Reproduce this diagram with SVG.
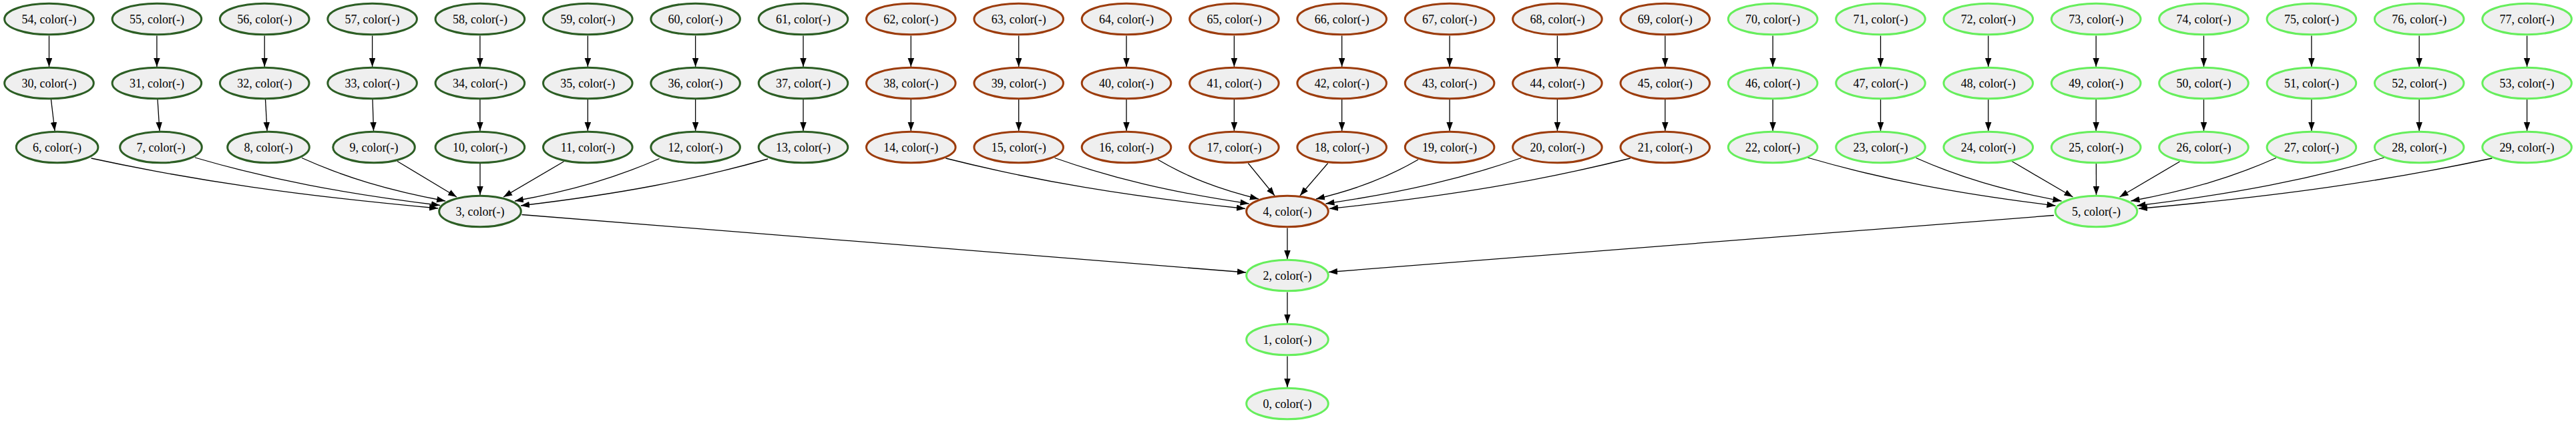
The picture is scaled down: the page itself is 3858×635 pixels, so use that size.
<svg xmlns="http://www.w3.org/2000/svg" width="3858" height="635" viewBox="0 0 3858 635">
<style>
.n ellipse{fill:#efefef;stroke-width:3}
.dg ellipse{stroke:#2c5e24}
.br ellipse{stroke:#9c3c0c}
.lg ellipse{stroke:#66ee5c}
.n text{font-family:"Liberation Serif","Times New Roman",serif;font-size:18px;text-anchor:middle;fill:#000}
#edges path{fill:none;stroke:#000;stroke-width:1.3;marker-end:url(#ah)}
</style>
<defs>
<marker id="ah" markerUnits="userSpaceOnUse" markerWidth="14" markerHeight="10" refX="13" refY="4.75" orient="auto"><path d="M0,0 L13,4.75 L0,9.5 z" fill="#000"/></marker>
</defs>
<rect width="3858" height="635" fill="#fff"/>
<g id="edges">
<path d="M73.5,53.5 V100"/><path d="M234.9,53.5 V100"/><path d="M396.2,53.5 V100"/><path d="M557.6,53.5 V100"/><path d="M718.9,53.5 V100"/><path d="M880.3,53.5 V100"/><path d="M1041.6,53.5 V100"/><path d="M1203,53.5 V100"/>
<path d="M1364.3,53.5 V100"/><path d="M1525.7,53.5 V100"/><path d="M1687,53.5 V100"/><path d="M1848.4,53.5 V100"/><path d="M2009.7,53.5 V100"/><path d="M2171.1,53.5 V100"/><path d="M2332.4,53.5 V100"/><path d="M2493.8,53.5 V100"/>
<path d="M2655.1,53.5 V100"/><path d="M2816.5,53.5 V100"/><path d="M2977.8,53.5 V100"/><path d="M3139.2,53.5 V100"/><path d="M3300.5,53.5 V100"/><path d="M3461.9,53.5 V100"/><path d="M3623.2,53.5 V100"/><path d="M3784.6,53.5 V100"/>
<path d="M76.5,149 L82,196"/><path d="M236,149 L239,196"/><path d="M397.5,149 L400,196"/><path d="M558,149 L559.5,196"/><path d="M718.9,149 V196"/><path d="M880.3,149 V196"/><path d="M1041.6,149 V196"/><path d="M1203,149 V196"/>
<path d="M1364.3,149 V196"/><path d="M1525.7,149 V196"/><path d="M1687,149 V196"/><path d="M1848.4,149 V196"/><path d="M2009.7,149 V196"/><path d="M2171.1,149 V196"/><path d="M2332.4,149 V196"/><path d="M2493.8,149 V196"/>
<path d="M2655.1,149 V196"/><path d="M2816.5,149 V196"/><path d="M2977.8,149 V196"/><path d="M3139.2,149 V196"/><path d="M3300.5,149 V196"/><path d="M3461.9,149 V196"/><path d="M3623.2,149 V196"/><path d="M3784.6,149 V196"/>
<path d="M136.6,237 C292.4,270.75 448.2,293.25 656,312"/>
<path d="M292,236 C402.1,268.2 512.2,289.6 659,307.5"/>
<path d="M452,236.5 C516.5,265.5 581,284.9 667,301"/>
<path d="M595,241.5 L684,295"/>
<path d="M719,245 L719,292"/>
<path d="M844.3,242 L754,295"/>
<path d="M987.6,237.5 C922.6,266.1 857.6,285.1 771,301"/>
<path d="M1150,238 C1039,269.5 928,290.5 780,308"/>
<path d="M1416.3,237 C1550.9,271 1685.5,293.6 1865,312.5"/>
<path d="M1579.6,236.5 C1666.9,267.3 1754.1,287.9 1870.5,305"/>
<path d="M1734,239 C1779.3,265.6 1824.6,283.3 1885,298"/>
<path d="M1869.4,244.5 L1909,293"/>
<path d="M1988.7,244.5 L1947,293"/>
<path d="M2124,239 C2078.1,265.6 2032.2,283.3 1971,298"/>
<path d="M2278.4,236.5 C2190.5,267.3 2102.7,287.9 1985.5,305"/>
<path d="M2441.8,237 C2306.5,271 2171.3,293.6 1991,312.5"/>
<path d="M2707.1,236 C2818.5,268.4 2929.9,290 3078.5,308"/>
<path d="M2869.5,236.5 C2934.9,265.5 3000.3,284.9 3087.5,301"/>
<path d="M3013,241.5 L3104.5,295"/>
<path d="M3139.4,245 L3139.5,292"/>
<path d="M3264.5,242 L3174.5,295"/>
<path d="M3408.9,236.5 C3343.7,265.5 3278.5,284.9 3191.5,301"/>
<path d="M3570.7,236 C3459.6,268.4 3348.6,290 3200.5,308"/>
<path d="M3732.4,237 C3573.6,271 3414.8,293.6 3203,312.5"/>
<path d="M781.5,321.5 L1866,408"/>
<path d="M1928,341.5 V388"/>
<path d="M3076,322.5 L1990,407.5"/>
<path d="M1928,437.5 V484"/>
<path d="M1928,533.5 V580"/>
</g>
<g id="n54" class="n dg"><ellipse cx="73.5" cy="28.5" rx="66.8" ry="23.3"/><text x="73.5" y="34.5">54, color(-)</text></g>
<g id="n55" class="n dg"><ellipse cx="234.9" cy="28.5" rx="66.8" ry="23.3"/><text x="234.9" y="34.5">55, color(-)</text></g>
<g id="n56" class="n dg"><ellipse cx="396.2" cy="28.5" rx="66.8" ry="23.3"/><text x="396.2" y="34.5">56, color(-)</text></g>
<g id="n57" class="n dg"><ellipse cx="557.6" cy="28.5" rx="66.8" ry="23.3"/><text x="557.6" y="34.5">57, color(-)</text></g>
<g id="n58" class="n dg"><ellipse cx="718.9" cy="28.5" rx="66.8" ry="23.3"/><text x="718.9" y="34.5">58, color(-)</text></g>
<g id="n59" class="n dg"><ellipse cx="880.3" cy="28.5" rx="66.8" ry="23.3"/><text x="880.3" y="34.5">59, color(-)</text></g>
<g id="n60" class="n dg"><ellipse cx="1041.6" cy="28.5" rx="66.8" ry="23.3"/><text x="1041.6" y="34.5">60, color(-)</text></g>
<g id="n61" class="n dg"><ellipse cx="1203" cy="28.5" rx="66.8" ry="23.3"/><text x="1203" y="34.5">61, color(-)</text></g>
<g id="n62" class="n br"><ellipse cx="1364.3" cy="28.5" rx="66.8" ry="23.3"/><text x="1364.3" y="34.5">62, color(-)</text></g>
<g id="n63" class="n br"><ellipse cx="1525.7" cy="28.5" rx="66.8" ry="23.3"/><text x="1525.7" y="34.5">63, color(-)</text></g>
<g id="n64" class="n br"><ellipse cx="1687" cy="28.5" rx="66.8" ry="23.3"/><text x="1687" y="34.5">64, color(-)</text></g>
<g id="n65" class="n br"><ellipse cx="1848.4" cy="28.5" rx="66.8" ry="23.3"/><text x="1848.4" y="34.5">65, color(-)</text></g>
<g id="n66" class="n br"><ellipse cx="2009.7" cy="28.5" rx="66.8" ry="23.3"/><text x="2009.7" y="34.5">66, color(-)</text></g>
<g id="n67" class="n br"><ellipse cx="2171.1" cy="28.5" rx="66.8" ry="23.3"/><text x="2171.1" y="34.5">67, color(-)</text></g>
<g id="n68" class="n br"><ellipse cx="2332.4" cy="28.5" rx="66.8" ry="23.3"/><text x="2332.4" y="34.5">68, color(-)</text></g>
<g id="n69" class="n br"><ellipse cx="2493.8" cy="28.5" rx="66.8" ry="23.3"/><text x="2493.8" y="34.5">69, color(-)</text></g>
<g id="n70" class="n lg"><ellipse cx="2655.1" cy="28.5" rx="66.8" ry="23.3"/><text x="2655.1" y="34.5">70, color(-)</text></g>
<g id="n71" class="n lg"><ellipse cx="2816.5" cy="28.5" rx="66.8" ry="23.3"/><text x="2816.5" y="34.5">71, color(-)</text></g>
<g id="n72" class="n lg"><ellipse cx="2977.8" cy="28.5" rx="66.8" ry="23.3"/><text x="2977.8" y="34.5">72, color(-)</text></g>
<g id="n73" class="n lg"><ellipse cx="3139.2" cy="28.5" rx="66.8" ry="23.3"/><text x="3139.2" y="34.5">73, color(-)</text></g>
<g id="n74" class="n lg"><ellipse cx="3300.5" cy="28.5" rx="66.8" ry="23.3"/><text x="3300.5" y="34.5">74, color(-)</text></g>
<g id="n75" class="n lg"><ellipse cx="3461.9" cy="28.5" rx="66.8" ry="23.3"/><text x="3461.9" y="34.5">75, color(-)</text></g>
<g id="n76" class="n lg"><ellipse cx="3623.2" cy="28.5" rx="66.8" ry="23.3"/><text x="3623.2" y="34.5">76, color(-)</text></g>
<g id="n77" class="n lg"><ellipse cx="3784.6" cy="28.5" rx="66.8" ry="23.3"/><text x="3784.6" y="34.5">77, color(-)</text></g>
<g id="n30" class="n dg"><ellipse cx="73.5" cy="124.5" rx="66.8" ry="23.3"/><text x="73.5" y="130.5">30, color(-)</text></g>
<g id="n31" class="n dg"><ellipse cx="234.9" cy="124.5" rx="66.8" ry="23.3"/><text x="234.9" y="130.5">31, color(-)</text></g>
<g id="n32" class="n dg"><ellipse cx="396.2" cy="124.5" rx="66.8" ry="23.3"/><text x="396.2" y="130.5">32, color(-)</text></g>
<g id="n33" class="n dg"><ellipse cx="557.6" cy="124.5" rx="66.8" ry="23.3"/><text x="557.6" y="130.5">33, color(-)</text></g>
<g id="n34" class="n dg"><ellipse cx="718.9" cy="124.5" rx="66.8" ry="23.3"/><text x="718.9" y="130.5">34, color(-)</text></g>
<g id="n35" class="n dg"><ellipse cx="880.3" cy="124.5" rx="66.8" ry="23.3"/><text x="880.3" y="130.5">35, color(-)</text></g>
<g id="n36" class="n dg"><ellipse cx="1041.6" cy="124.5" rx="66.8" ry="23.3"/><text x="1041.6" y="130.5">36, color(-)</text></g>
<g id="n37" class="n dg"><ellipse cx="1203" cy="124.5" rx="66.8" ry="23.3"/><text x="1203" y="130.5">37, color(-)</text></g>
<g id="n38" class="n br"><ellipse cx="1364.3" cy="124.5" rx="66.8" ry="23.3"/><text x="1364.3" y="130.5">38, color(-)</text></g>
<g id="n39" class="n br"><ellipse cx="1525.7" cy="124.5" rx="66.8" ry="23.3"/><text x="1525.7" y="130.5">39, color(-)</text></g>
<g id="n40" class="n br"><ellipse cx="1687" cy="124.5" rx="66.8" ry="23.3"/><text x="1687" y="130.5">40, color(-)</text></g>
<g id="n41" class="n br"><ellipse cx="1848.4" cy="124.5" rx="66.8" ry="23.3"/><text x="1848.4" y="130.5">41, color(-)</text></g>
<g id="n42" class="n br"><ellipse cx="2009.7" cy="124.5" rx="66.8" ry="23.3"/><text x="2009.7" y="130.5">42, color(-)</text></g>
<g id="n43" class="n br"><ellipse cx="2171.1" cy="124.5" rx="66.8" ry="23.3"/><text x="2171.1" y="130.5">43, color(-)</text></g>
<g id="n44" class="n br"><ellipse cx="2332.4" cy="124.5" rx="66.8" ry="23.3"/><text x="2332.4" y="130.5">44, color(-)</text></g>
<g id="n45" class="n br"><ellipse cx="2493.8" cy="124.5" rx="66.8" ry="23.3"/><text x="2493.8" y="130.5">45, color(-)</text></g>
<g id="n46" class="n lg"><ellipse cx="2655.1" cy="124.5" rx="66.8" ry="23.3"/><text x="2655.1" y="130.5">46, color(-)</text></g>
<g id="n47" class="n lg"><ellipse cx="2816.5" cy="124.5" rx="66.8" ry="23.3"/><text x="2816.5" y="130.5">47, color(-)</text></g>
<g id="n48" class="n lg"><ellipse cx="2977.8" cy="124.5" rx="66.8" ry="23.3"/><text x="2977.8" y="130.5">48, color(-)</text></g>
<g id="n49" class="n lg"><ellipse cx="3139.2" cy="124.5" rx="66.8" ry="23.3"/><text x="3139.2" y="130.5">49, color(-)</text></g>
<g id="n50" class="n lg"><ellipse cx="3300.5" cy="124.5" rx="66.8" ry="23.3"/><text x="3300.5" y="130.5">50, color(-)</text></g>
<g id="n51" class="n lg"><ellipse cx="3461.9" cy="124.5" rx="66.8" ry="23.3"/><text x="3461.9" y="130.5">51, color(-)</text></g>
<g id="n52" class="n lg"><ellipse cx="3623.2" cy="124.5" rx="66.8" ry="23.3"/><text x="3623.2" y="130.5">52, color(-)</text></g>
<g id="n53" class="n lg"><ellipse cx="3784.6" cy="124.5" rx="66.8" ry="23.3"/><text x="3784.6" y="130.5">53, color(-)</text></g>
<g id="n6" class="n dg"><ellipse cx="85.6" cy="220.5" rx="61.3" ry="23.3"/><text x="85.6" y="226.5">6, color(-)</text></g>
<g id="n7" class="n dg"><ellipse cx="241" cy="220.5" rx="61.3" ry="23.3"/><text x="241" y="226.5">7, color(-)</text></g>
<g id="n8" class="n dg"><ellipse cx="402" cy="220.5" rx="61.3" ry="23.3"/><text x="402" y="226.5">8, color(-)</text></g>
<g id="n9" class="n dg"><ellipse cx="560" cy="220.5" rx="61.3" ry="23.3"/><text x="560" y="226.5">9, color(-)</text></g>
<g id="n10" class="n dg"><ellipse cx="718.9" cy="220.5" rx="66.8" ry="23.3"/><text x="718.9" y="226.5">10, color(-)</text></g>
<g id="n11" class="n dg"><ellipse cx="880.3" cy="220.5" rx="66.8" ry="23.3"/><text x="880.3" y="226.5">11, color(-)</text></g>
<g id="n12" class="n dg"><ellipse cx="1041.6" cy="220.5" rx="66.8" ry="23.3"/><text x="1041.6" y="226.5">12, color(-)</text></g>
<g id="n13" class="n dg"><ellipse cx="1203" cy="220.5" rx="66.8" ry="23.3"/><text x="1203" y="226.5">13, color(-)</text></g>
<g id="n14" class="n br"><ellipse cx="1364.3" cy="220.5" rx="66.8" ry="23.3"/><text x="1364.3" y="226.5">14, color(-)</text></g>
<g id="n15" class="n br"><ellipse cx="1525.7" cy="220.5" rx="66.8" ry="23.3"/><text x="1525.7" y="226.5">15, color(-)</text></g>
<g id="n16" class="n br"><ellipse cx="1687" cy="220.5" rx="66.8" ry="23.3"/><text x="1687" y="226.5">16, color(-)</text></g>
<g id="n17" class="n br"><ellipse cx="1848.4" cy="220.5" rx="66.8" ry="23.3"/><text x="1848.4" y="226.5">17, color(-)</text></g>
<g id="n18" class="n br"><ellipse cx="2009.7" cy="220.5" rx="66.8" ry="23.3"/><text x="2009.7" y="226.5">18, color(-)</text></g>
<g id="n19" class="n br"><ellipse cx="2171.1" cy="220.5" rx="66.8" ry="23.3"/><text x="2171.1" y="226.5">19, color(-)</text></g>
<g id="n20" class="n br"><ellipse cx="2332.4" cy="220.5" rx="66.8" ry="23.3"/><text x="2332.4" y="226.5">20, color(-)</text></g>
<g id="n21" class="n br"><ellipse cx="2493.8" cy="220.5" rx="66.8" ry="23.3"/><text x="2493.8" y="226.5">21, color(-)</text></g>
<g id="n22" class="n lg"><ellipse cx="2655.1" cy="220.5" rx="66.8" ry="23.3"/><text x="2655.1" y="226.5">22, color(-)</text></g>
<g id="n23" class="n lg"><ellipse cx="2816.5" cy="220.5" rx="66.8" ry="23.3"/><text x="2816.5" y="226.5">23, color(-)</text></g>
<g id="n24" class="n lg"><ellipse cx="2977.8" cy="220.5" rx="66.8" ry="23.3"/><text x="2977.8" y="226.5">24, color(-)</text></g>
<g id="n25" class="n lg"><ellipse cx="3139.2" cy="220.5" rx="66.8" ry="23.3"/><text x="3139.2" y="226.5">25, color(-)</text></g>
<g id="n26" class="n lg"><ellipse cx="3300.5" cy="220.5" rx="66.8" ry="23.3"/><text x="3300.5" y="226.5">26, color(-)</text></g>
<g id="n27" class="n lg"><ellipse cx="3461.9" cy="220.5" rx="66.8" ry="23.3"/><text x="3461.9" y="226.5">27, color(-)</text></g>
<g id="n28" class="n lg"><ellipse cx="3623.2" cy="220.5" rx="66.8" ry="23.3"/><text x="3623.2" y="226.5">28, color(-)</text></g>
<g id="n29" class="n lg"><ellipse cx="3784.6" cy="220.5" rx="66.8" ry="23.3"/><text x="3784.6" y="226.5">29, color(-)</text></g>
<g id="n3" class="n dg"><ellipse cx="719" cy="316.5" rx="61.3" ry="23.3"/><text x="719" y="322.5">3, color(-)</text></g>
<g id="n4" class="n br"><ellipse cx="1928" cy="316.5" rx="61.3" ry="23.3"/><text x="1928" y="322.5">4, color(-)</text></g>
<g id="n5" class="n lg"><ellipse cx="3139.5" cy="316.5" rx="61.3" ry="23.3"/><text x="3139.5" y="322.5">5, color(-)</text></g>
<g id="n2" class="n lg"><ellipse cx="1928" cy="412.5" rx="61.3" ry="23.3"/><text x="1928" y="418.5">2, color(-)</text></g>
<g id="n1" class="n lg"><ellipse cx="1928" cy="508.5" rx="61.3" ry="23.3"/><text x="1928" y="514.5">1, color(-)</text></g>
<g id="n0" class="n lg"><ellipse cx="1928" cy="604.5" rx="61.3" ry="23.3"/><text x="1928" y="610.5">0, color(-)</text></g>
</svg>
